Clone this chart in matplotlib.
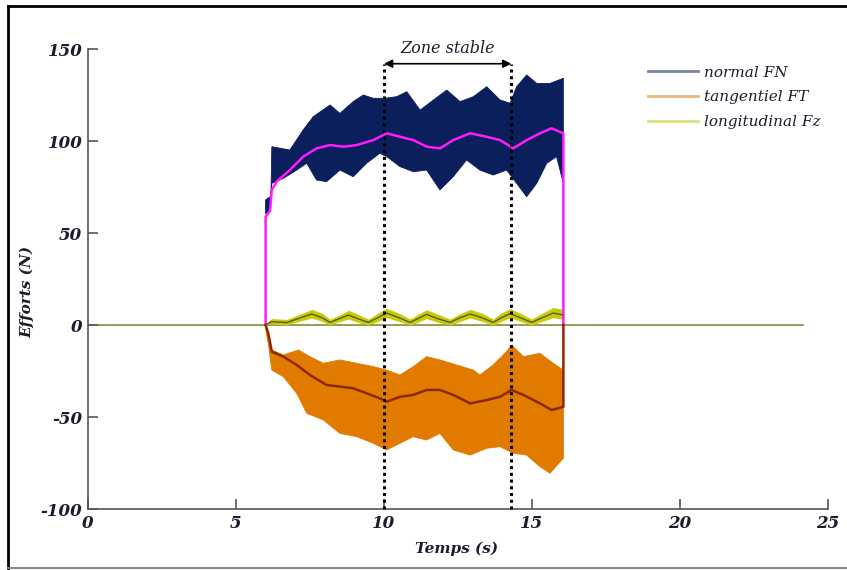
import numpy as np
import matplotlib
matplotlib.use("Agg")
import matplotlib.pyplot as plt
from matplotlib.lines import Line2D

plt.rcParams["axes.unicode_minus"] = False

# ---------------- data ----------------
# normal FN : envelope of the noisy band and its mean
fn_up_t = [6.0, 6.18, 6.21, 6.82, 7.27, 7.61, 8.18, 8.51, 8.96, 9.30, 9.64, 10.03,
           10.43, 10.77, 11.22, 11.67, 12.12, 12.57, 13.02, 13.47, 13.92, 14.26,
           14.48, 14.82, 15.16, 15.61, 16.06]
fn_up = [68, 70, 96.9, 95.1, 106, 113.2, 119.6, 115, 121.4, 125, 123.2, 123.2,
         124.1, 126.8, 116.8, 122.3, 127.7, 121.4, 124.1, 129.5, 122.3, 120.5,
         129.5, 135.9, 131.3, 131.3, 134.1]
fn_lo_t = [6.0, 6.15, 6.21, 6.60, 7.05, 7.39, 7.72, 8.06, 8.51, 8.96, 9.41, 9.86,
           10.09, 10.54, 10.99, 11.44, 11.89, 12.34, 12.79, 13.24, 13.69, 14.14,
           14.48, 14.82, 15.16, 15.50, 15.83, 16.06]
fn_lo = [60.5, 62.5, 77, 79.7, 84.2, 87.9, 78.8, 77.9, 84.2, 80.6, 87.9, 93.3,
         91.5, 86.1, 83.3, 84.2, 73.4, 80.6, 89.7, 84.2, 81.5, 84.2,
         77, 69.7, 77, 87.9, 91.5, 77]
fn_mean_t = [6.0, 6.0, 6.15, 6.21, 6.37, 6.82, 7.27, 7.72, 8.18, 8.63, 9.08, 9.64,
             10.09, 10.54, 10.99, 11.44, 11.89, 12.34, 12.91, 13.47, 13.92, 14.37,
             14.82, 15.27, 15.66, 16.06, 16.06]
fn_mean = [0, 58.9, 62, 73.4, 77.9, 84.2, 91.5, 96, 97.8, 96.9, 97.8, 100.5,
           104.2, 102.3, 100.5, 96.9, 96, 100.5, 104.2, 102.3, 100.5, 96,
           100.5, 104.2, 106.9, 104.2, 0]

# tangentiel FT
ft_up_t = [6.0, 6.09, 6.21, 6.60, 7.11, 7.50, 7.95, 8.51, 9.08, 9.64, 10.09, 10.54,
           10.99, 11.44, 11.89, 12.45, 13.02, 13.24, 13.69, 14.14, 14.31, 14.71,
           15.27, 15.72, 16.06]
ft_up = [0, -8.2, -13.6, -16.3, -13.6, -17.2, -20.8, -19, -20.8, -22.6, -24.5, -27.2,
         -22.6, -17.2, -19, -21.7, -24.5, -27.2, -21.7, -14.5, -10.9, -17.2,
         -15.4, -20.8, -24.5]
ft_lo_t = [6.0, 6.09, 6.21, 6.60, 7.05, 7.39, 7.95, 8.51, 9.08, 9.64, 10.09, 10.54,
           10.99, 11.44, 11.89, 12.34, 12.91, 13.47, 13.92, 14.37, 14.82, 15.27,
           15.61, 15.95, 16.06]
ft_lo = [-2, -10, -24.5, -28.1, -37.1, -48, -51.6, -58.9, -60.7, -64.3, -67.9, -64.3,
         -60.7, -62.5, -58.9, -67.9, -70.7, -67, -66.1, -69.7, -70.7, -77,
         -80.6, -74.3, -72.5]
ft_mean_t = [6.0, 6.09, 6.21, 6.60, 7.05, 7.50, 8.06, 8.51, 8.96, 9.41, 9.86, 10.09,
             10.54, 10.99, 11.44, 11.89, 12.34, 12.91, 13.47, 13.92, 14.31, 14.71,
             15.27, 15.66, 16.06, 16.06]
ft_mean = [0, -4.5, -14.5, -17.2, -21.7, -27.2, -32.6, -33.5, -34.4, -37.1, -39.9, -41.7,
           -39, -38, -35.3, -35.3, -38, -42.6, -40.8, -39, -35.3, -38,
           -42.6, -46.2, -44.4, 0]

# longitudinal Fz
fz_t = [6.0, 6.2, 6.71, 7.1, 7.56, 7.9, 8.18, 8.5, 8.8, 9.1, 9.47, 9.8, 10.09, 10.5,
        10.88, 11.15, 11.44, 11.8, 12.23, 12.55, 12.91, 13.3, 13.69, 13.95, 14.26,
        14.6, 14.99, 15.35, 15.72, 16.05]
fz_mean = [0, 1.8, 1.3, 3.5, 6.0, 4.0, 1.4, 3.5, 5.4, 3.5, 1.4, 4.0, 6.5, 4.0,
           1.4, 3.5, 5.8, 3.5, 1.4, 3.8, 6.0, 4.0, 1.4, 3.8, 6.2,
           4.0, 1.4, 4.0, 6.5, 5.5]
fz_hi = [0.5, 3.5, 3.0, 5.5, 8.5, 6.5, 3.2, 5.5, 8.0, 6.0, 3.2, 6.5, 9.0, 6.5,
         3.2, 5.8, 8.3, 6.0, 3.2, 6.0, 8.5, 6.5, 3.2, 6.5, 8.8,
         6.5, 3.2, 6.5, 9.5, 8.5]
fz_lo = [0, 0.5, 0, 1.8, 3.8, 2.0, 0, 1.8, 3.2, 1.5, 0, 2.0, 4.0, 2.0,
         0, 1.5, 3.5, 1.5, 0, 1.8, 3.8, 2.0, 0, 1.8, 4.0,
         2.0, 0, 2.0, 4.0, 3.0]

base_t = [0, 24.15]
base_v = [0, 0]

zone_start, zone_end = 10.0, 14.3
zone_y = 142

x_ticks = [0, 5, 10, 15, 20, 25]
y_ticks = [-100, -50, 0, 50, 100, 150]
series_labels = ["normal FN", "tangentiel FT", "longitudinal Fz"]

# ---------------- styling ----------------
C_FN, C_FN_M = "#0b1f5c", "#ff1aff"
C_FT, C_FT_M = "#e07b00", "#8a2800"
C_FZ, C_FZ_M = "#c6cc0a", "#5c5c00"
C_BASE = "#8a8a3a"
TXT = "#1c1c2e"

fig = plt.figure(figsize=(8.47, 5.70), dpi=100)
ax = fig.add_axes([88 / 847, 61 / 570, 740 / 847, 460 / 570])

ax.plot(base_t, base_v, color=C_BASE, lw=1.2, zorder=1)

ax.fill(np.concatenate([fn_up_t, fn_lo_t[::-1]]), np.concatenate([fn_up, fn_lo[::-1]]),
        color=C_FN, lw=0.6, ec=C_FN, zorder=2)
ax.plot(fn_mean_t, fn_mean, color=C_FN_M, lw=1.8, zorder=3)

ax.fill(np.concatenate([ft_up_t, ft_lo_t[::-1]]), np.concatenate([ft_up, ft_lo[::-1]]),
        color=C_FT, lw=0.6, ec=C_FT, zorder=2)
ax.plot(ft_mean_t, ft_mean, color=C_FT_M, lw=1.8, zorder=3)

ax.fill_between(fz_t, fz_lo, fz_hi, color=C_FZ, lw=0, zorder=2)
ax.plot(fz_t, fz_mean, color=C_FZ_M, lw=1.0, zorder=3)

# zone stable
for xz in (zone_start, zone_end):
    ax.plot([xz, xz], [-100, zone_y], color="black", ls=(0, (1, 1.2)), lw=2.2,
            zorder=5, clip_on=False)
ax.annotate("", xy=(zone_start, zone_y), xytext=(zone_end, zone_y),
            arrowprops=dict(arrowstyle="<|-|>", color="black", lw=1.2,
                            shrinkA=0, shrinkB=0, mutation_scale=12), zorder=6)
ax.text((zone_start + zone_end) / 2, zone_y + 3.5, "Zone stable", ha="center",
        va="bottom", family="DejaVu Serif", style="italic", fontsize=11.5, color=TXT)

ax.set_xlim(0, 25)
ax.set_ylim(-100, 150)
ax.set_xticks(x_ticks)
ax.set_yticks(y_ticks)
for s in ("top", "right"):
    ax.spines[s].set_visible(False)
for s in ("left", "bottom"):
    ax.spines[s].set_color("#555555")
    ax.spines[s].set_linewidth(1.2)
ax.tick_params(direction="in", length=7, width=1.2, color="#555555", pad=4,
               labelcolor=TXT)
for lab in ax.get_xticklabels() + ax.get_yticklabels():
    lab.set_fontfamily("DejaVu Serif")
    lab.set_fontstyle("italic")
    lab.set_fontweight("bold")
    lab.set_fontsize(12)

ax.set_xlabel("Temps (s)", family="DejaVu Serif", style="italic", weight="bold",
              fontsize=11, color=TXT)
ax.set_ylabel("Efforts (N)", family="DejaVu Serif", style="italic", weight="bold",
              fontsize=11, color=TXT)
ax.xaxis.set_label_coords((457 - 88) / 740, -(549 - 509) / 460)
ax.yaxis.set_label_coords((27 - 88) / 740, (509 - 292) / 460)
ax.xaxis.label.set_va("center")
ax.yaxis.label.set_va("center")

handles = [Line2D([], [], color=c, lw=2, alpha=0.55) for c in (C_FN, C_FT, C_FZ)]
leg = ax.legend(handles, series_labels, loc="upper left",
                bbox_to_anchor=(634 / 847, 1 - 52 / 570), bbox_transform=fig.transFigure,
                frameon=False, handlelength=3.3, handletextpad=0.4, labelspacing=0.7,
                prop=dict(family="DejaVu Serif", style="italic", size=11))
for t in leg.get_texts():
    t.set_color(TXT)

# screenshot frame
fig.add_artist(Line2D([8 / 847, 8 / 847], [1 - 6 / 570, 1 - 569 / 570],
                      transform=fig.transFigure, color="black", lw=2))
fig.add_artist(Line2D([8 / 847, 1], [1 - 6 / 570, 1 - 6 / 570],
                      transform=fig.transFigure, color="black", lw=2))
fig.add_artist(Line2D([8 / 847, 1], [1 - 568 / 570, 1 - 568 / 570],
                      transform=fig.transFigure, color="#888888", lw=1.5))

fig.savefig("out.png", dpi=100)
